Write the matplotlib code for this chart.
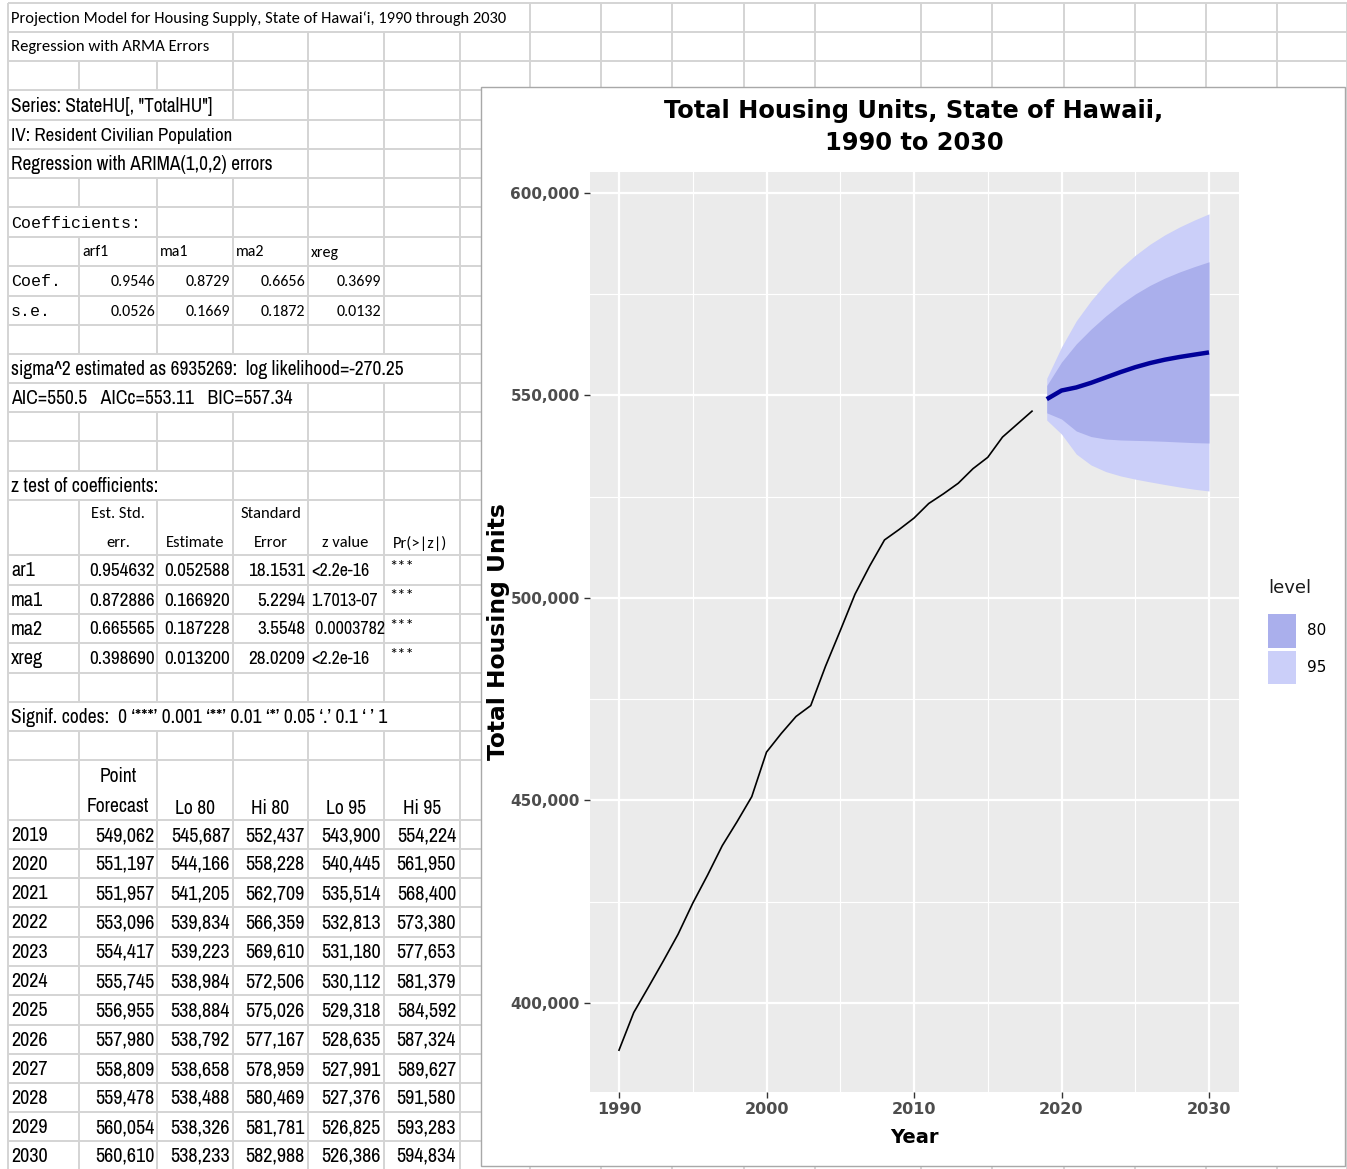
import matplotlib
matplotlib.use('agg')
import matplotlib.pyplot as plt
from matplotlib import font_manager
from matplotlib.patches import Rectangle, Patch
import numpy as np

W, H = 1347, 1169

hist_years = np.arange(1990, 2019)
hist_units = [388300, 397600, 403900, 410300, 416900, 424600, 431500, 438800,
              444700, 450900, 461900, 466500, 470700, 473400, 483100, 491900,
              500900, 507900, 514300, 516900, 519700, 523300, 525700, 528300,
              531900, 534700, 539700, 542900, 546100]

# forecast table
fc_years = [2019, 2020, 2021, 2022, 2023, 2024, 2025, 2026, 2027, 2028, 2029, 2030]
fc_point = [549062, 551197, 551957, 553096, 554417, 555745, 556955, 557980,
            558809, 559478, 560054, 560610]
fc_lo80 = [545687, 544166, 541205, 539834, 539223, 538984, 538884, 538792,
           538658, 538488, 538326, 538233]
fc_hi80 = [552437, 558228, 562709, 566359, 569610, 572506, 575026, 577167,
           578959, 580469, 581781, 582988]
fc_lo95 = [543900, 540445, 535514, 532813, 531180, 530112, 529318, 528635,
           527991, 527376, 526825, 526386]
fc_hi95 = [554224, 561950, 568400, 573380, 577653, 581379, 584592, 587324,
           589627, 591580, 593283, 594834]

# model coefficients
coef_names = ['arf1', 'ma1', 'ma2', 'xreg']
coef_vals = ['0.9546', '0.8729', '0.6656', '0.3699']
coef_se = ['0.0526', '0.1669', '0.1872', '0.0132']

# z test of coefficients
z_terms = ['ar1', 'ma1', 'ma2', 'xreg']
z_est_std_err = ['0.954632', '0.872886', '0.665565', '0.398690']
z_estimate = ['0.052588', '0.166920', '0.187228', '0.013200']
z_std_error = ['18.1531', '5.2294', '3.5548', '28.0209']
z_value = ['<2.2e-16', '1.7013-07', ' 0.0003782', '<2.2e-16']
z_pr = ['***', '***', '***', '***']

avail = {f.name for f in font_manager.fontManager.ttflist}


def pick(*names):
    found = [n for n in names if n in avail]
    return found + ['DejaVu Sans']


NARROW = pick('Liberation Sans Narrow', 'Archivo Narrow', 'PT Sans Narrow',
              'Roboto Condensed', 'Liberation Sans')
CAL = pick('Carlito', 'Open Sans', 'Liberation Sans')
MONO = pick('Liberation Mono', 'Courier Prime', 'DejaVu Sans Mono')

fig = plt.figure(figsize=(W / 100, H / 100), dpi=100)
renderer = fig.canvas.get_renderer()


def fit(s, family, target, weight='normal'):
    # font size giving the reference text width in pixels
    t = fig.text(0, 0, s, fontsize=10, family=family, fontweight=weight)
    w = t.get_window_extent(renderer).width
    t.remove()
    return 10 * target / w


ax0 = fig.add_axes([0, 0, 1, 1])
ax0.set_xlim(0, W)
ax0.set_ylim(H, 0)
ax0.axis('off')

# spreadsheet grid
cols = [8, 79, 157, 233, 308, 384, 460, 530, 601, 672, 744, 815, 921, 992,
        1064, 1135, 1206, 1277, 1347]
rows = [3, 32, 61, 90, 120, 149, 178, 207, 237, 266, 296, 325, 354, 383, 412,
        441, 471, 500, 555, 585, 614, 643, 673, 702, 731, 760, 820, 849, 878,
        907, 937, 966, 995, 1025, 1054, 1083, 1112, 1141, 1170]
# text spilling over cells hides the vertical lines up to this x
overflow = {0: 530, 1: 233, 3: 233, 4: 308, 5: 308, 7: 157, 12: 460,
            13: 308, 16: 233, 23: 460}
grid_c = '#d4d4d4'
ax0.hlines(rows, cols[0], W, color=grid_c, lw=1.4)
for i in range(len(rows) - 1):
    xs = [x for x in cols if x == cols[0] or x >= overflow.get(i, 0)]
    ax0.vlines(xs, rows[i], rows[i + 1], color=grid_c, lw=1.4)


def mid(i):
    return (rows[i] + rows[i + 1]) / 2


def put(x, y, s, size, family=None, ha='left', **kw):
    ax0.text(x, y, s, ha=ha, va='center', fontsize=size,
             family=family or NARROW, color='black', **kw)


def put_fit(x, y, s, family, target, ha='left'):
    put(x, y, s, fit(s, family, target), family, ha)


put_fit(11, mid(0) + 1, 'Projection Model for Housing Supply, State of Hawaiʻi, 1990 through 2030', CAL, 498)
put_fit(11, mid(1) + 1, 'Regression with ARMA Errors', CAL, 198)
put_fit(11, mid(3) + 1, 'Series: StateHU[, "TotalHU"]', NARROW, 202)
put_fit(11, mid(4) + 1, 'IV: Resident Civilian Population', NARROW, 222)
put_fit(11, mid(5) + 1, 'Regression with ARIMA(1,0,2) errors', NARROW, 262)

mono_size = fit('Coefficients:', MONO, 130)
cal_size = fit('0.9546', CAL, 45)
put(11, mid(7) + 1, 'Coefficients:', mono_size, MONO)
rights = [155, 230, 305, 381, 456]
lefts = [82, 160, 236, 311]
for k, name in enumerate(coef_names):
    put(lefts[k], mid(8) + 1, name, cal_size, CAL)
    put(rights[k], mid(9) + 1, coef_vals[k], cal_size, CAL, ha='right')
    put(rights[k], mid(10) + 1, coef_se[k], cal_size, CAL, ha='right')
put(11, mid(9) + 1, 'Coef.', mono_size, MONO)
put(11, mid(10) + 1, 's.e.', mono_size, MONO)

put_fit(11, mid(12) + 1, 'sigma^2 estimated as 6935269:  log likelihood=-270.25', NARROW, 392)
put_fit(11, mid(13) + 1, 'AIC=550.5   AICc=553.11   BIC=557.34', NARROW, 281)

put_fit(11, mid(16) + 1, 'z test of coefficients:', NARROW, 148)
head_size = fit('Estimate', CAL, 59)
hy1, hy2 = 514, 543
put(118, hy1, 'Est. Std.', head_size, CAL, ha='center')
put(118, hy2, 'err.', head_size, CAL, ha='center')
put(195, hy2, 'Estimate', head_size, CAL, ha='center')
put(271, hy1, 'Standard', head_size, CAL, ha='center')
put(271, hy2, 'Error', head_size, CAL, ha='center')
put(345, hy2, 'z value', head_size, CAL, ha='center')
put(420, hy2, 'Pr(>|z|)', head_size, CAL, ha='center')
z_size = fit('0.954632', NARROW, 65)
zv_size = fit('1.7013-07', NARROW, 66)
for k, term in enumerate(z_terms):
    r = 18 + k
    put(11, mid(r) + 1, term, z_size * 1.05)
    put(rights[0], mid(r) + 1, z_est_std_err[k], z_size, ha='right')
    put(rights[1], mid(r) + 1, z_estimate[k], z_size, ha='right')
    put(rights[2], mid(r) + 1, z_std_error[k], z_size, ha='right')
    put(311, mid(r) + 1, z_value[k], zv_size)
    put(389, mid(r) - 3, z_pr[k], head_size, CAL)
put_fit(11, mid(23) + 1, 'Signif. codes:  0 ‘***’ 0.001 ‘**’ 0.01 ‘*’ 0.05 ‘.’ 0.1 ‘ ’ 1', NARROW, 374)

num_size = fit('549,062', NARROW, 59)
put(118, 777, 'Point', num_size * 0.97, ha='center')
put(118, 806, 'Forecast', num_size * 0.97, ha='center')
for k, lab in enumerate(['Lo 80', 'Hi 80', 'Lo 95', 'Hi 95']):
    put((cols[k + 2] + cols[k + 3]) / 2, 808, lab, num_size * 0.97, ha='center')
for k, yr in enumerate(fc_years):
    r = 26 + k
    put(11, mid(r) + 1, str(yr), num_size)
    for c, series in enumerate([fc_point, fc_lo80, fc_hi80, fc_lo95, fc_hi95]):
        put(rights[c], mid(r) + 1, f'{series[k]:,}', num_size, ha='right')

# white box holding the chart
ax0.add_patch(Rectangle((481, 87), 864, 1079, facecolor='white',
                        edgecolor='#a8a8a8', lw=1.0, zorder=5))

# chart
c80, c95 = '#aaafec', '#cbcff9'
ax = fig.add_axes([589.5 / W, 1 - 1092 / H, 649 / W, 920 / H])
ax.set_facecolor('#ebebeb')
ax.fill_between(fc_years, fc_lo95, fc_hi95, color=c95, lw=0)
ax.fill_between(fc_years, fc_lo80, fc_hi80, color=c80, lw=0)
ax.plot(hist_years, hist_units, color='black', lw=1.2)
ax.plot(fc_years, fc_point, color='#000099', lw=3.2, solid_capstyle='butt')

lo = min(min(hist_units), min(fc_lo95))
hi = max(max(hist_units), max(fc_hi95))
pad = (hi - lo) * 0.05
ax.set_ylim(lo - pad, hi + pad)
ax.set_xlim(1988, 2032)

CHART = ['DejaVu Sans']
xt = [1990, 2000, 2010, 2020, 2030]
yt = [400000, 450000, 500000, 550000, 600000]
ax.set_xticks(xt, labels=[str(t) for t in xt], fontweight='bold', family=CHART)
ax.set_yticks(yt, labels=[f'{t:,}' for t in yt], fontweight='bold', family=CHART)
ax.set_xticks([1995, 2005, 2015, 2025], minor=True)
ax.set_yticks([425000, 475000, 525000, 575000], minor=True)
ax.tick_params(which='major', length=4, width=1, color='#333333',
               labelcolor='#4d4d4d', pad=3)
ax.tick_params(axis='x', which='major', labelsize=11.5)
ax.tick_params(axis='y', which='major', labelsize=11)
ax.tick_params(which='minor', length=0)
ax.grid(which='major', color='white', lw=1.6)
ax.grid(which='minor', color='white', lw=0.8)
ax.set_axisbelow(True)
for s in ax.spines.values():
    s.set_visible(False)

ax.set_xlabel('Year', fontsize=14, fontweight='bold', labelpad=8)
ax.set_ylabel('Total Housing Units', fontsize=16.8, fontweight='bold', labelpad=0)
title_size = fit('Total Housing Units, State of Hawaii,', CHART, 500, 'bold')
fig.text(914 / W, 1 - 127 / H, 'Total Housing Units, State of Hawaii,\n1990 to 2030',
         ha='center', va='center', fontsize=title_size, fontweight='bold',
         family=CHART, linespacing=1.4)

fig.text(1268 / W, 1 - 588 / H, 'level', ha='left', va='center', fontsize=13,
         color='#1a1a1a')
ax.legend(handles=[Patch(facecolor=c80, label='80'),
                   Patch(facecolor=c95, label='95')],
          loc='upper left', bbox_to_anchor=(1268 / W, 1 - 614 / H),
          bbox_transform=fig.transFigure, frameon=False, fontsize=11,
          handlelength=1.85, handleheight=3.0, handletextpad=0.7,
          labelspacing=0.2, borderpad=0, borderaxespad=0)

fig.savefig('out.png', dpi=100)
